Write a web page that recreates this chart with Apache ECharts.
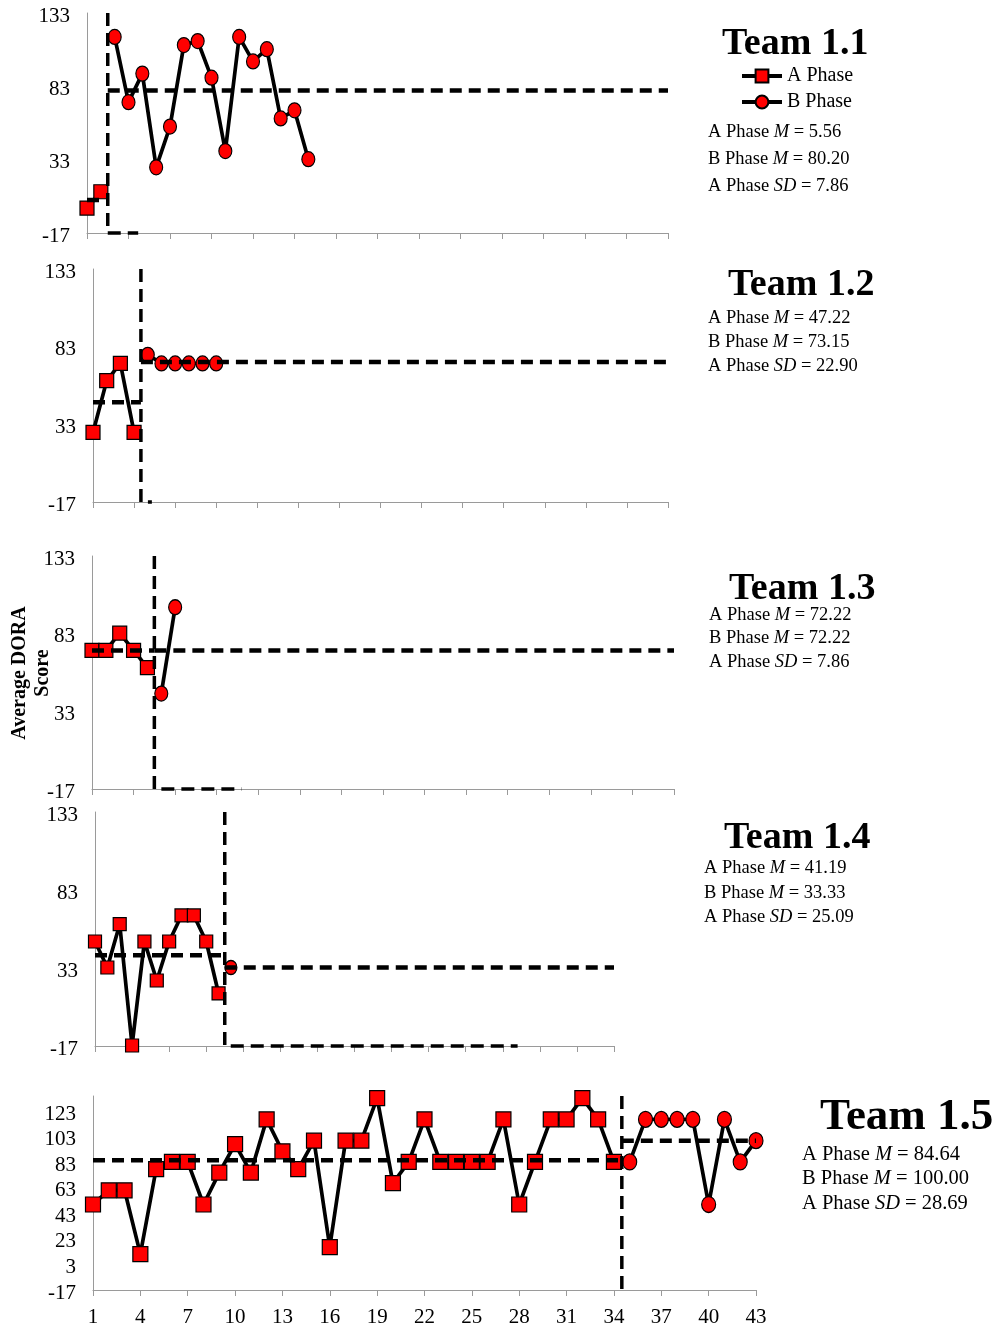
<!DOCTYPE html>
<html>
<head>
<meta charset="utf-8">
<script src="https://cdn.jsdelivr.net/npm/echarts@6/dist/echarts.min.js"></script>
<style>
  html, body { margin: 0; padding: 0; background: #fff; }
  #chart { width: 997px; height: 1328px; }
</style>
</head>
<body>
<div id="chart"></div>
<script>
// Sessions on the shared x axis: 1..43, labelled every third session
const sessionCount = 43;
const sessionLabelStep = 3;

// Y-axis tick labels
const yTicksTeam = [-17, 33, 83, 133];
const yTicksTeam15 = [-17, 3, 23, 43, 63, 83, 103, 123];

// Average DORA scores, baseline (A) and intervention (B) phases
const team11A = [0, 11.11];
const team11B = [116.67, 72.22, 91.67, 27.78, 55.56, 111.11, 113.89, 88.89, 38.89, 116.67, 100, 108.33, 61.11, 66.67, 33.33];

const team12A = [27.78, 61.11, 72.22, 27.78];
const team12B = [77.78, 72.22, 72.22, 72.22, 72.22, 72.22];

const team13A = [72.22, 72.22, 83.33, 72.22, 61.11];
const team13B = [44.44, 100];

const team14A = [50, 33.33, 61.11, -16.67, 50, 25, 50, 66.67, 66.67, 50, 16.67];
const team14B = [33.33];

const team15A = [50, 61.11, 61.11, 11.11, 77.78, 83.33, 83.33, 50, 75, 97.22, 75, 116.67, 91.67, 77.78, 100, 16.67, 100, 100, 133.33,
                 66.67, 83.33, 116.67, 83.33, 83.33, 83.33, 83.33, 116.67, 50, 83.33, 116.67, 116.67, 133.33, 116.67, 83.33];
const team15B = [83.33, 116.67, 116.67, 116.67, 116.67, 50, 116.67, 83.33, 100];

// Phase summaries: A mean, B mean, A standard deviation
const team11Stats = [5.56, 80.20, 7.86];
const team12Stats = [47.22, 73.15, 22.90];
const team13Stats = [72.22, 72.22, 7.86];
const team14Stats = [41.19, 33.33, 25.09];
const team15Stats = [84.64, 100.00, 28.69];

const FONT = 'Liberation Serif';

const panels = [
  { title: 'Team 1.1', a: team11A, b: team11B, stats: team11Stats, ticks: yTicksTeam, yMax: 133,
    grid: { left: 87, top: 13, width: 581, height: 220 }, floorEnd: 3.7,
    titlePos: [722, 25], titleSize: 38, statsPos: [708, 119], statsLh: 27, statsSize: 18.5, sym: 14, showX: false },
  { title: 'Team 1.2', a: team12A, b: team12B, stats: team12Stats, ticks: yTicksTeam, yMax: 133,
    grid: { left: 93, top: 269, width: 575, height: 233 }, floorEnd: 4.3,
    titlePos: [728, 266], titleSize: 38, statsPos: [708, 306], statsLh: 24, statsSize: 18.5, sym: 14, showX: false },
  { title: 'Team 1.3', a: team13A, b: team13B, stats: team13Stats, ticks: yTicksTeam, yMax: 133,
    grid: { left: 92, top: 556, width: 582, height: 233 }, floorEnd: 10.8,
    titlePos: [729, 570], titleSize: 38, statsPos: [709, 603], statsLh: 23.5, statsSize: 18.5, sym: 14, showX: false },
  { title: 'Team 1.4', a: team14A, b: team14B, stats: team14Stats, ticks: yTicksTeam, yMax: 133,
    grid: { left: 95, top: 812, width: 519, height: 234 }, floorEnd: 34.2,
    titlePos: [724, 819], titleSize: 38, statsPos: [704, 856], statsLh: 24.5, statsSize: 18.5, sym: 13, showX: false },
  { title: 'Team 1.5', a: team15A, b: team15B, stats: team15Stats, ticks: yTicksTeam15, yMax: 135,
    grid: { left: 93, top: 1096, width: 663, height: 194 }, floorEnd: null,
    titlePos: [820, 1095], titleSize: 45, statsPos: [802, 1142], statsLh: 24.5, statsSize: 20.5, sym: 15, showX: true }
];

const grids = [], xAxes = [], yAxes = [], series = [], titles = [];
const axisGray = '#9a9a9a';

panels.forEach((p, k) => {
  const yMin = p.ticks[0];
  const yStep = p.ticks[1] - p.ticks[0];
  const lastTick = p.ticks[p.ticks.length - 1];
  const phase = p.a.length - 0.5;

  grids.push(Object.assign({ containLabel: false }, p.grid));

  xAxes.push({
    type: 'value', gridIndex: k, min: 0, max: sessionCount - 1, interval: sessionLabelStep,
    axisLine: { onZero: false, lineStyle: { color: axisGray, width: 1 } },
    axisTick: { show: true, length: 6, lineStyle: { color: axisGray } },
    splitLine: { show: false },
    axisLabel: { show: p.showX, formatter: v => String(v + 1), fontFamily: FONT, fontSize: 21, color: '#000', margin: 17 }
  });

  yAxes.push({
    type: 'value', gridIndex: k, min: yMin, max: p.yMax, interval: yStep,
    axisLine: { show: true, onZero: false, lineStyle: { color: axisGray, width: 1 } },
    axisTick: { show: false },
    splitLine: { show: false },
    axisLabel: {
      margin: 17, showMaxLabel: p.yMax === lastTick,
      formatter: v => '{t|' + v + '}',
      rich: { t: { fontFamily: FONT, fontSize: 21, color: '#000', padding: [6, 0, 0, 0] } }
    }
  });

  const common = { xAxisIndex: k, yAxisIndex: k, animation: false, silent: true };

  series.push(Object.assign({
    type: 'line', name: 'A Phase',
    data: p.a.map((v, i) => [i, v]),
    symbol: 'rect', symbolSize: p.sym,
    itemStyle: { color: '#ff0000', borderColor: '#000', borderWidth: 1.2 },
    lineStyle: { color: '#000', width: 3.7 }, z: 2, clip: false
  }, common));

  series.push(Object.assign({
    type: 'line', name: 'B Phase',
    data: p.b.map((v, i) => [p.a.length + i, v]),
    symbol: 'circle', symbolSize: [p.sym - 1, p.sym + 1],
    itemStyle: { color: '#ff0000', borderColor: '#000', borderWidth: 1.2 },
    lineStyle: { color: '#000', width: 3.7 }, z: 2, clip: false
  }, common));

  const meanStyle = { color: '#000', width: 4.5, type: [12, 7] };
  series.push(Object.assign({
    type: 'line', name: 'A mean', data: [[0, p.stats[0]], [phase, p.stats[0]]],
    symbol: 'none', lineStyle: meanStyle, z: 3, clip: false
  }, common));
  series.push(Object.assign({
    type: 'line', name: 'B mean', data: [[phase, p.stats[1]], [sessionCount - 1, p.stats[1]]],
    symbol: 'none', lineStyle: meanStyle, z: 3, clip: false
  }, common));

  const phaseLine = [[phase, p.yMax], [phase, yMin]];
  if (p.floorEnd !== null) phaseLine.push([p.floorEnd, yMin]);
  series.push(Object.assign({
    type: 'line', name: 'Phase change', data: phaseLine,
    symbol: 'none', lineStyle: { color: '#000', width: 3.5, type: [13, 7] }, z: 3, clip: false
  }, common));

  titles.push({
    text: p.title, left: p.titlePos[0], top: p.titlePos[1], padding: 0,
    textStyle: { fontFamily: FONT, fontWeight: 'bold', fontSize: p.titleSize, color: '#000', lineHeight: p.titleSize }
  });

  const r = { fontFamily: FONT, fontWeight: 'normal', fontSize: p.statsSize, color: '#000', lineHeight: p.statsLh };
  const it = Object.assign({}, r, { fontStyle: 'italic' });
  const fmt = v => v.toFixed(2);
  titles.push({
    left: p.statsPos[0], top: p.statsPos[1], padding: 0,
    text: '{r|A Phase }{i|M}{r| = ' + fmt(p.stats[0]) + '}\n' +
          '{r|B Phase }{i|M}{r| = ' + fmt(p.stats[1]) + '}\n' +
          '{r|A Phase }{i|SD}{r| = ' + fmt(p.stats[2]) + '}',
    textStyle: { fontWeight: 'normal', rich: { r: r, i: it }, lineHeight: p.statsLh }
  });
});

const chart = echarts.init(document.getElementById('chart'), null, { renderer: 'canvas' });
chart.setOption({
  backgroundColor: '#fff',
  animation: false,
  title: titles,
  legend: {
    data: ['A Phase', 'B Phase'], orient: 'vertical', left: 740, top: 66,
    itemWidth: 40, itemHeight: 16, itemGap: 6, selectedMode: false, padding: 0,
    lineStyle: { width: 4, color: '#000' },
    textStyle: { fontFamily: FONT, fontSize: 20, color: '#000' }
  },
  grid: grids,
  xAxis: xAxes,
  yAxis: yAxes,
  series: series,
  graphic: [{
    type: 'text', x: 31, y: 673, rotation: Math.PI / 2,
    style: {
      text: 'Average DORA\nScore', fontFamily: FONT, fontWeight: 'bold', fontSize: 20,
      lineHeight: 23, fill: '#000', align: 'center', verticalAlign: 'middle'
    }
  }]
});
</script>
</body>
</html>
